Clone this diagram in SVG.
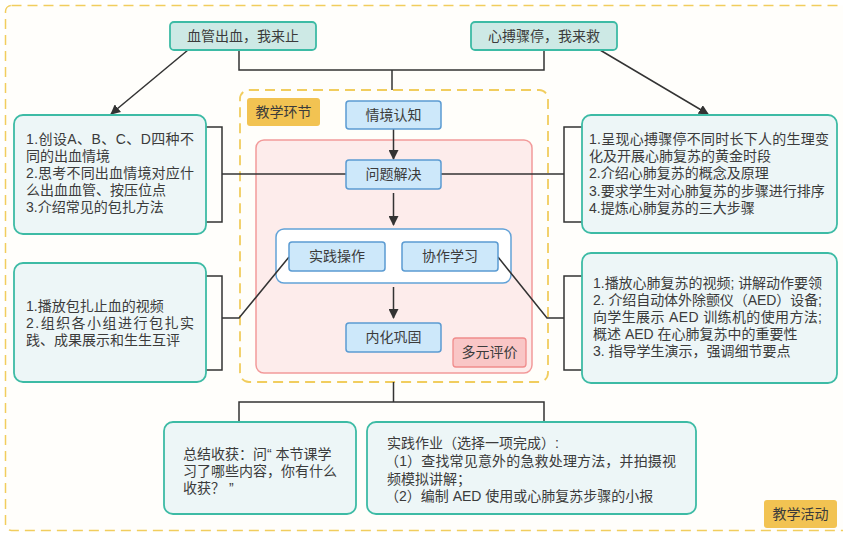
<svg xmlns="http://www.w3.org/2000/svg" width="843" height="534" viewBox="0 0 843 534">
<defs>
<marker id="arr" viewBox="0 0 10 10" refX="9" refY="5" markerWidth="10" markerHeight="10" markerUnits="userSpaceOnUse" orient="auto">
<path d="M0,0 L10,5 L0,10 Z" fill="#333"/>
</marker>
<style>
text{font-family:"Liberation Sans","Noto Sans CJK SC",sans-serif;fill:#3b3b3b;font-size:14px}
.c{text-anchor:middle}
.top{fill:#cde9e5;stroke:#3dbba5;stroke-width:1.8}
.box{fill:#edf6f7;stroke:#3dbba5;stroke-width:1.8}
.blue{fill:#cde8fa;stroke:#5b9bd2;stroke-width:1.5}
.lab{fill:#f2c352}
.ln{fill:none;stroke:#333;stroke-width:1.5}
</style>
</defs>
<rect x="5.5" y="5.5" width="846" height="525" rx="6" fill="#fffefb" stroke="#f1cd5e" stroke-width="1.5" stroke-dasharray="10 6"/>
<g id="frame-jiaoxue">
<rect x="240" y="90" width="308" height="292" rx="9" fill="#fffefa" stroke="#f1cd5e" stroke-width="1.8" stroke-dasharray="10 6"/>
</g>
<g id="frame-eval">
<rect x="256" y="140" width="276" height="233" rx="8" fill="#fdeceb" stroke="#f29a9a" stroke-width="1.5"/>
</g>
<g id="group-practice">
<rect x="276" y="229" width="235" height="54" rx="8" fill="#ffffff" stroke="#62a2d8" stroke-width="1.5"/>
</g>
<g id="connectors">
<path class="ln" d="M239,50 V70 H544 V50"/>
<path class="ln" d="M392,70 V90"/>
<path class="ln" d="M188,50 L111,114" marker-end="url(#arr)"/>
<path class="ln" d="M600,50 L708,114" marker-end="url(#arr)"/>
<path class="ln" d="M206,127 H222 V222 H206"/>
<path class="ln" d="M222,174 H346"/>
<path class="ln" d="M582,127 H564 V222 H582"/>
<path class="ln" d="M441,174 H564"/>
<path class="ln" d="M206,276 H222 V370 H206"/>
<path class="ln" d="M222,318 H239 L289,257"/>
<path class="ln" d="M582,276 H564 V370 H582"/>
<path class="ln" d="M564,318 H547 L498,257"/>
<path class="ln" d="M393.5,129 V159" marker-end="url(#arr)"/>
<path class="ln" d="M393.5,193 V225" marker-end="url(#arr)"/>
<path class="ln" d="M393.5,287 V318" marker-end="url(#arr)"/>
<path class="ln" d="M393.5,382 V402 M239,422 V402 H544 V422"/>
</g>
<g id="n-bleed">
<rect class="top" x="170" y="22" width="146" height="28" rx="4"/>
<text class="c" x="243" y="41">血管出血，我来止</text>
</g>
<g id="n-cardiac">
<rect class="top" x="471" y="22" width="146" height="28" rx="4"/>
<text class="c" x="544" y="41">心搏骤停，我来救</text>
</g>
<g id="box-l1">
<rect class="box" x="14" y="115" width="192" height="119" rx="9"/>
<text><tspan x="26" y="144" textLength="168" lengthAdjust="spacing">1.创设A、B、C、D四种不</tspan><tspan x="26" y="161">同的出血情境</tspan><tspan x="26" y="178" textLength="168" lengthAdjust="spacing">2.思考不同出血情境对应什</tspan><tspan x="26" y="195">么出血血管、按压位点</tspan><tspan x="26" y="212">3.介绍常见的包扎方法</tspan></text>
</g>
<g id="box-l2">
<rect class="box" x="14" y="263" width="192" height="119" rx="9"/>
<text><tspan x="26" y="311">1.播放包扎止血的视频</tspan><tspan x="26" y="328" textLength="168" lengthAdjust="spacing">2.组织各小组进行包扎实</tspan><tspan x="26" y="345">践、成果展示和生生互评</tspan></text>
</g>
<g id="box-r1">
<rect class="box" x="582" y="115" width="255" height="118" rx="9"/>
<text><tspan x="589" y="144" textLength="240" lengthAdjust="spacing">1.呈现心搏骤停不同时长下人的生理变</tspan><tspan x="589" y="161">化及开展心肺复苏的黄金时段</tspan><tspan x="589" y="178">2.介绍心肺复苏的概念及原理</tspan><tspan x="589" y="196">3.要求学生对心肺复苏的步骤进行排序</tspan><tspan x="589" y="213">4.提炼心肺复苏的三大步骤</tspan></text>
</g>
<g id="box-r2">
<rect class="box" x="582" y="253" width="255" height="130" rx="9"/>
<text><tspan x="593" y="288" textLength="229" lengthAdjust="spacing">1.播放心肺复苏的视频; 讲解动作要领</tspan><tspan x="593" y="305" textLength="229" lengthAdjust="spacing">2. 介绍自动体外除颤仪（AED）设备;</tspan><tspan x="593" y="322" textLength="229" lengthAdjust="spacing">向学生展示  AED  训练机的使用方法;</tspan><tspan x="593" y="339">概述 AED 在心肺复苏中的重要性</tspan><tspan x="593" y="356">3. 指导学生演示，强调细节要点</tspan></text>
</g>
<g id="label-jiaoxue">
<rect class="lab" x="247" y="98" width="73" height="28" rx="3"/>
<text class="c" x="283.5" y="117">教学环节</text>
</g>
<g id="n-situation">
<rect class="blue" x="346" y="101" width="95" height="28" rx="3"/>
<text class="c" x="393.5" y="120">情境认知</text>
</g>
<g id="n-problem">
<rect class="blue" x="346" y="160" width="95" height="29" rx="3"/>
<text class="c" x="393.5" y="179">问题解决</text>
</g>
<g id="n-practice">
<rect class="blue" x="289" y="242" width="96" height="29" rx="3"/>
<text class="c" x="337" y="261">实践操作</text>
</g>
<g id="n-collab">
<rect class="blue" x="402" y="242" width="96" height="29" rx="3"/>
<text class="c" x="450" y="261">协作学习</text>
</g>
<g id="n-internal">
<rect class="blue" x="346" y="323" width="95" height="29" rx="3"/>
<text class="c" x="393.5" y="342">内化巩固</text>
</g>
<g id="n-eval">
<rect x="453" y="338" width="73" height="29" rx="3" fill="#f9c6c6" stroke="#f08c8c" stroke-width="1.3"/>
<text class="c" x="489.5" y="357">多元评价</text>
</g>
<g id="box-summary">
<rect class="box" x="164" y="422" width="192" height="92" rx="9"/>
<text><tspan x="183" y="459">总结收获：问“ 本节课学</tspan><tspan x="183" y="476">习了哪些内容，你有什么</tspan><tspan x="183" y="493">收获？ ”</tspan></text>
</g>
<g id="box-homework">
<rect class="box" x="367" y="422" width="329" height="92" rx="9"/>
<text><tspan x="387" y="448">实践作业（选择一项完成）:</tspan><tspan x="385" y="466" textLength="291" lengthAdjust="spacing">（1）查找常见意外的急救处理方法，并拍摄视</tspan><tspan x="387" y="484">频模拟讲解；</tspan><tspan x="385" y="501">（2）编制 AED 使用或心肺复苏步骤的小报</tspan></text>
</g>
<g id="label-activity">
<rect class="lab" x="764" y="500" width="73" height="28" rx="3"/>
<text class="c" x="800.5" y="519">教学活动</text>
</g>
</svg>
